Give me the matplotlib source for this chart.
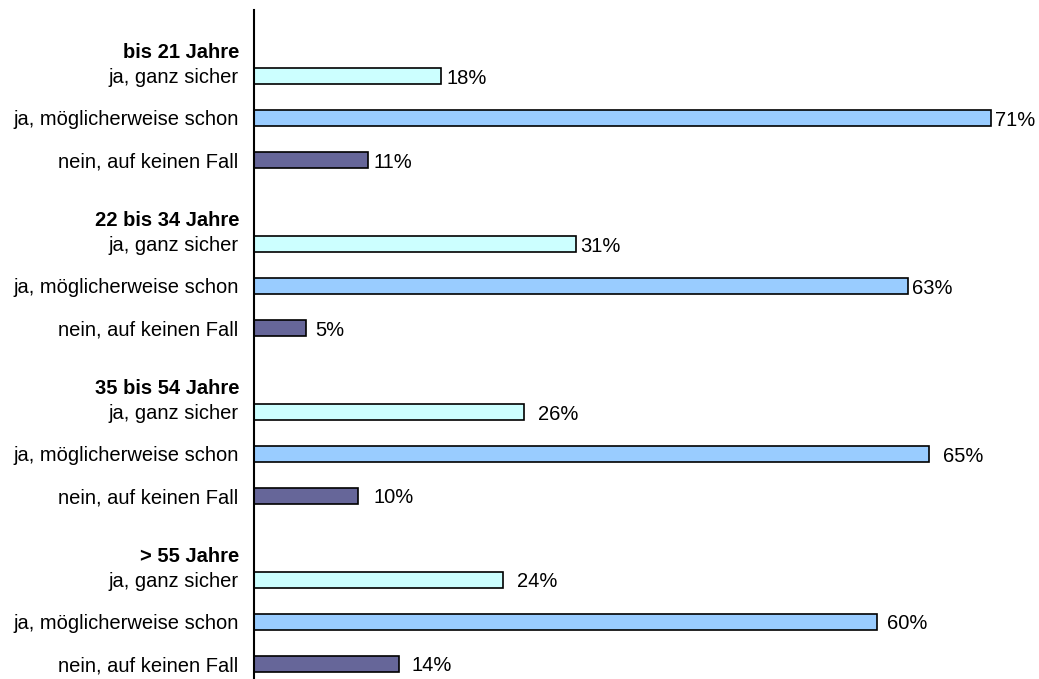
import matplotlib
matplotlib.use("Agg")
import matplotlib.pyplot as plt

plt.rcParams["font.family"] = ["Liberation Sans", "DejaVu Sans"]

groups = ["bis 21 Jahre", "22 bis 34 Jahre", "35 bis 54 Jahre", "> 55 Jahre"]
answers = ["ja, ganz sicher", "ja, möglicherweise schon", "nein, auf keinen Fall"]
values = [
    [18, 71, 11],
    [31, 63, 5],
    [26, 65, 10],
    [24, 60, 14],
]
colors = ["#CCFFFF", "#99CCFF", "#666699"]
# gap between bar end and its label, in points
label_pad = [
    [4, 3, 4],
    [3, 3, 7],
    [10, 10, 11],
    [10, 7, 9],
]

fig = plt.figure(figsize=(10.39, 6.79), dpi=100)
ax = fig.add_axes([254 / 1039, 0, 1 - 254 / 1039, 1 - 10 / 679])

yticks = []
ylabels = []
for g, grp in enumerate(groups):
    for i, ans in enumerate(answers):
        pos = 4 * g + i + 1
        v = values[g][i]
        ax.barh(pos, v, height=0.38, color=colors[i], edgecolor="black", linewidth=1.2)
        ax.annotate(f"{v}%", (v, pos + 0.05), xytext=(label_pad[g][i], 0), textcoords="offset points",
                    ha="left", va="center", fontsize=14.5)
        yticks.append(pos)
        ylabels.append(ans)
    ax.text(-0.019, 4 * g + 0.45, grp, transform=ax.get_yaxis_transform(),
            ha="right", va="center", fontsize=14.5, fontweight="bold")

ax.set_yticks(yticks)
ax.set_yticklabels(ylabels, fontsize=14.5)
ax.tick_params(axis="y", length=0, pad=11)
ax.set_xticks([])
ax.set_xlim(0, 75.6)
ax.set_ylim(15.36, -0.57)
for s in ["top", "right", "bottom"]:
    ax.spines[s].set_visible(False)
ax.spines["left"].set_linewidth(1.5)

plt.savefig("out.png", dpi=100)
